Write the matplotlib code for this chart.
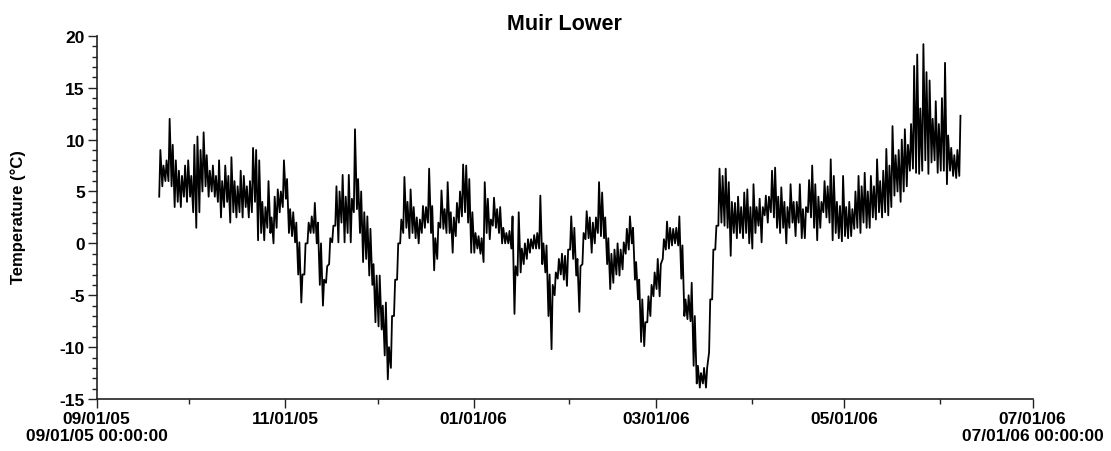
import numpy as np
import matplotlib
matplotlib.use('Agg')
import matplotlib.pyplot as plt
import matplotlib.dates as mdates
from matplotlib.ticker import MultipleLocator, FuncFormatter

plt.rcParams['font.family'] = ['Liberation Sans', 'DejaVu Sans']
plt.rcParams['axes.unicode_minus'] = False

# Daily low / high temperatures (deg C), by month
sep_lo = [4.5, 5.5, 6, 6, 5.5, 3.5, 4, 3.5, 4.5, 4]
sep_hi = [9.0, 7.5, 8, 12, 9.5, 8, 7, 6.5, 7.5, 8]

oct_lo = [4.5, 3, 1.5, 3, 5, 5.5, 4.5, 5, 4.5, 4, 2.5, 3.5, 4, 2, 3, 2.5, 3, 2.5, 3.5, 2.5,
          3, 4, 0.3, 1, 0.3, 1.5, 1, 0, 1.5, 3, 3.5]
oct_hi = [6.5, 9.5, 10.3, 9, 10.7, 8.5, 7, 7.5, 6.5, 8, 6, 7.5, 6.5, 8.3, 6, 5.5, 7, 6.5, 5.5, 6,
          9.2, 9, 8, 4, 3.5, 6, 2.5, 4.5, 5.2, 5, 8]

nov_lo = [4.3, 1, 0.7, 0.1, -3, -5.7, -3, 0, 1, 1, 0, -4, -6, -3.8, -2, 0.1, 1.7, 0.1, 2, 0.1,
          1, 0.1, 3, 3.3, 1, -1.8, -1.5, -3.1, -4, -7.6]
nov_hi = [6.2, 3.3, 3, 2, 0.1, -3, 0, 2, 2.6, 3.9, 2, 0, -3.5, -2.2, 0.5, 1.7, 5.5, 5, 6.6, 4.5,
          6.6, 4.3, 11, 6.2, 5, 3, 2.6, 1.4, -2, -3.1]

dec_lo = [-8, -8.3, -10.8, -13.1, -12, -7, -3.5, 0, 1, 1.5, 0.5, 1, 0.5, 0, 1, 1.5, 2, 1, -2.6, -1.5,
          1.5, 1.4, 1, 1, -0.9, 0.7, 2, 2.6, 3, 2, -0.9]
dec_hi = [-3.1, -6, -5.7, -10, -7, -3.5, 0, 2.3, 6.4, 4, 5.2, 3.5, 2.5, 2.3, 3.6, 3.5, 7.2, 3.6, 0.5, 2,
          5.1, 3.3, 5.9, 3, 2.5, 3.9, 5, 7.6, 7.5, 6.2, 3]

jan_lo = [-0.9, -0.5, -1, -1.8, 1, 0.4, 1.7, 1.5, 1, 0, 0, 0, -0.5, -6.8, -3.1, -2.8, -2, -1.5, -0.9, -0.5,
          -0.5, -0.5, -2, -2.8, -7, -10.2, -5, -3.4, -3, -3.5, -4.1]
jan_hi = [1, 0.7, 0.5, 5.9, 4.3, 2.3, 4.4, 3.3, 3.5, 1.5, 1, 1.2, 2.6, -2.2, 3.0, -0.5, 0, 0.4, 0.4, 0.8,
          1, 4.6, 0, -0.2, -3, -4, -2.8, -1.5, -1, -1.2, -0.6]

feb_lo = [-0.6, -1.5, -3.1, -6.6, -2, 0.4, 0.5, -0.9, 0, 1, 0.7, 0.5, -2, -4.4, -3.8, -3, -3.1, -2.5, -1, -0.6,
          0, -3.5, -5.4, -9.5, -9.9, -7.6, -7, -5.1]
feb_hi = [2.6, 1.5, -1.5, -2.2, 1, 3.1, 2.5, 2, 2.5, 5.9, 4.9, 2.5, 0.5, -1, -0.6, 0, -0.6, 0.1, 1.4, 2.6,
          1.5, -1.8, -3.5, -5.4, -7.6, -5.1, -4, -2.8]

mar_lo = [-4.4, -5.1, -1.5, -0.6, -0.5, -0.2, 0, -0.2, -3.4, -7, -7.3, -7.5, -11.8, -13.5, -13.9, -13.5,
          -13.9, -10.5, -5.4, -0.6, 1.7, 2, 1.7, 1.5, -1.2, 1, 0.5, 1, 0.5, 1, 0]
mar_hi = [-1.5, -2, 0.4, 2.1, 1.5, 1.4, 1.5, 2.6, -0.2, -5.4, -5, -3.8, -7, -11.8, -12.5, -12,
          -12, -5.4, -0.6, 1.7, 7.2, 6.5, 7.2, 5.9, 4, 3.9, 4.5, 3.5, 4.9, 5.2, 3.5]

apr_lo = [-0.5, 1, 1.7, 0.1, 2.7, 2, 3, 2.5, 1.5, 1, 1.5, 0, 1.5, 2, 0.7, 2, 0.5, 0.5, 3, 2.5,
          1.5, 0.3, 1.5, 3, 2.5, 2, 0.3, 1, 0.5, 0.2]
apr_hi = [5.7, 3.5, 4.3, 3.5, 4.6, 4.5, 7, 7.3, 4.5, 5.4, 4, 3.5, 5.7, 4, 4, 5.7, 3.3, 3.5, 6.1, 7.5,
          5.7, 4.5, 4, 6, 5.5, 8.1, 6.5, 4, 3.6, 6.5]

may_lo = [0.7, 0.5, 0.7, 1.4, 1.5, 1, 2, 1.5, 1.5, 2.5, 2.3, 3, 2.5, 3, 2.7, 3.5, 4.6, 5, 4, 5,
          5.5, 7, 7.2, 6.8, 6.7, 7, 8, 6.7, 7.8, 8, 6.8]
may_hi = [3.5, 4, 3.3, 5, 6.5, 5.5, 6.8, 5, 6.5, 5.5, 8.1, 6, 7, 9.1, 7.5, 11.3, 8.5, 9, 10, 11,
          9.5, 11.5, 17.1, 18.2, 13, 19.2, 16.5, 15.7, 12, 13.7, 11.5]

jun_lo = [7, 7, 5.7, 7, 6.5, 6.3, 6.5]
jun_hi = [14, 17.4, 10.4, 9.2, 8.5, 9, 12.3]

segments = [
    ('2005-09-21', sep_lo, sep_hi),
    ('2005-10-01', oct_lo, oct_hi),
    ('2005-11-01', nov_lo, nov_hi),
    ('2005-12-01', dec_lo, dec_hi),
    ('2006-01-01', jan_lo, jan_hi),
    ('2006-02-01', feb_lo, feb_hi),
    ('2006-03-01', mar_lo, mar_hi),
    ('2006-04-01', apr_lo, apr_hi),
    ('2006-05-01', may_lo, may_hi),
    ('2006-06-01', jun_lo, jun_hi),
]

times, temps = [], []
for start, lo, hi in segments:
    d0 = np.datetime64(start, 'h')
    for i, (l, h) in enumerate(zip(lo, hi)):
        day = d0 + np.timedelta64(24 * i, 'h')
        times += [day + np.timedelta64(6, 'h'), day + np.timedelta64(15, 'h')]
        temps += [l, h]
times = np.array(times, dtype='datetime64[h]')
temps = np.array(temps)

fig = plt.figure(figsize=(11.11, 4.52), dpi=100)
ax = fig.add_axes([0.087, 0.115, 0.8425, 0.8035])
ax.plot(times, temps, color='black', lw=1.3)

x0 = np.datetime64('2005-09-01')
x1 = np.datetime64('2006-07-01')
ax.set_xlim(x0, x1)
ax.set_ylim(-15, 20)

ax.xaxis.set_major_locator(mdates.MonthLocator(bymonth=[1, 3, 5, 7, 9, 11]))
ax.xaxis.set_minor_locator(mdates.MonthLocator(bymonth=[2, 4, 6, 10, 12]))

ends = {(2005, 9, 1), (2006, 7, 1)}

def fmt(x, pos):
    d = mdates.num2date(x)
    s = d.strftime('%m/%d/%y')
    if (d.year, d.month, d.day) in ends:
        s += '\n' + d.strftime('%m/%d/%y %H:%M:%S')
    return s

ax.xaxis.set_major_formatter(FuncFormatter(fmt))
ax.yaxis.set_major_locator(MultipleLocator(5))
ax.yaxis.set_minor_locator(MultipleLocator(1))

for s in ['top', 'right']:
    ax.spines[s].set_visible(False)
for s in ['left', 'bottom']:
    ax.spines[s].set_linewidth(1.2)
    ax.spines[s].set_color('#222222')

ax.tick_params(axis='both', which='major', length=6.5, width=1, labelsize=12.5, pad=2, color='#222222')
ax.tick_params(axis='both', which='minor', length=3.5, width=1, color='#222222')
for lab in ax.get_xticklabels() + ax.get_yticklabels():
    lab.set_fontweight('bold')
for lab in ax.get_xticklabels():
    lab.set_multialignment('center')

ax.set_ylabel('Temperature (°C)', fontsize=12, fontweight='bold', va='center')
ax.yaxis.set_label_coords(-0.084, 0.504)
ax.set_title('Muir Lower', fontsize=15.5, fontweight='bold', pad=5)

fig.savefig('out.png', dpi=100)
